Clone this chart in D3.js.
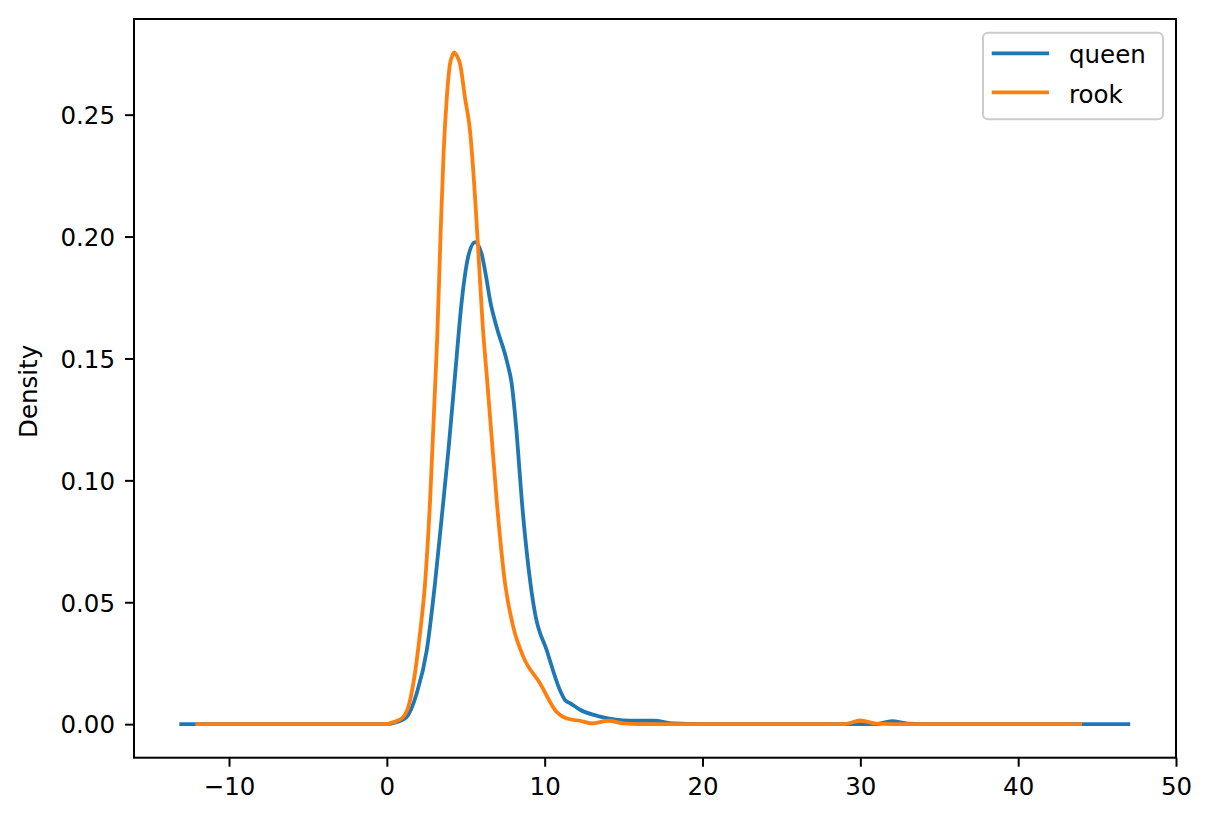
<!DOCTYPE html>
<html>
<head>
<meta charset="utf-8">
<script src="https://cdn.jsdelivr.net/npm/d3@7"></script>
<style>
  html, body { margin: 0; padding: 0; background: #fff; }
  svg { display: block; }
  text { font-family: "DejaVu Sans", sans-serif; }
</style>
</head>
<body>
<svg id="chart" width="1211" height="822"></svg>
<script>
// ---- data ----
const seriesNames = ["queen", "rook"];

const queenX = [-13.15, -5, 0, 0.6, 1.26, 1.89, 2.53, 3.05, 3.48, 3.90, 4.32, 4.75, 5.2, 5.59, 6.0, 6.33, 6.54, 6.96, 7.60, 7.91, 8.23, 8.55, 8.97, 9.39, 10.13, 10.97, 11.3, 11.61, 12.24, 13.51, 15.41, 16.89, 18.15, 20, 31, 32.0, 33, 34, 47.1];
const queenY = [0, 0, 0, 0.0008, 0.003, 0.0126, 0.0303, 0.0577, 0.085, 0.1123, 0.143, 0.1738, 0.193, 0.1977, 0.193, 0.182, 0.1738, 0.1628, 0.149, 0.1396, 0.119, 0.0918, 0.0645, 0.0454, 0.0303, 0.0139, 0.0098, 0.0086, 0.0059, 0.0031, 0.0014, 0.0014, 0.0003, 0, 0, 0.0012, 0.0002, 0, 0];

const rookX = [-12.13, -5, 0, 0.2, 0.6, 1.05, 1.4, 1.68, 2.10, 2.42, 2.74, 3.0, 3.2, 3.4, 3.6, 3.8, 4.0, 4.11, 4.26, 4.45, 4.64, 4.95, 5.27, 5.59, 5.84, 6.08, 6.33, 6.65, 6.96, 7.49, 8.01, 8.65, 9.71, 10.76, 11.40, 12.24, 12.98, 14.03, 14.98, 16, 29, 30.0, 31, 32, 44.05];
const rookY = [0, 0, 0, 0.0004, 0.0012, 0.003, 0.008, 0.0167, 0.0372, 0.0577, 0.0918, 0.13, 0.16, 0.20, 0.235, 0.257, 0.2708, 0.2735, 0.2755, 0.2740, 0.2708, 0.257, 0.2434, 0.216, 0.189, 0.163, 0.143, 0.117, 0.0918, 0.0577, 0.0399, 0.0276, 0.0167, 0.005, 0.0023, 0.0014, 0.0003, 0.0014, 0.0003, 0, 0, 0.0015, 0.0002, 0, 0];

const xTicks = [-10, 0, 10, 20, 30, 40, 50];
const yTicks = [0.00, 0.05, 0.10, 0.15, 0.20, 0.25];
const yLabel = "Density";
const colors = ["#1f77b4", "#ff7f0e"];

// ---- layout ----
const mLeft = 134, mRight = 1176, mTop = 19, mBottom = 757.7;
const svg = d3.select("#chart");

const x = d3.scaleLinear().domain([-16.02, 50]).range([mLeft, mRight]);
const y = d3.scaleLinear().domain([-0.01376, 0.28924]).range([mBottom, mTop]);

const fontSize = 24.5;

// x axis
const xAxis = svg.append("g")
  .attr("transform", `translate(0,${mBottom})`)
  .call(d3.axisBottom(x).tickValues(xTicks)
    .tickFormat(d => d < 0 ? "\u2212" + Math.abs(d) : String(d))
    .tickSize(9).tickSizeOuter(0).tickPadding(11));
xAxis.select(".domain").remove();
xAxis.selectAll(".tick line").attr("stroke", "#000").attr("stroke-width", 2);
xAxis.selectAll(".tick text").attr("font-size", fontSize).attr("fill", "#000")
  .attr("font-family", "DejaVu Sans");

// y axis
const yAxis = svg.append("g")
  .attr("transform", `translate(${mLeft},0)`)
  .call(d3.axisLeft(y).tickValues(yTicks)
    .tickFormat(d3.format(".2f"))
    .tickSize(9).tickSizeOuter(0).tickPadding(10));
yAxis.select(".domain").remove();
yAxis.selectAll(".tick line").attr("stroke", "#000").attr("stroke-width", 2);
yAxis.selectAll(".tick text").attr("font-size", fontSize).attr("fill", "#000")
  .attr("dy", "0.36em").attr("font-family", "DejaVu Sans");

// y label
svg.append("text")
  .attr("transform", `translate(37,${(mTop + mBottom) / 2 + 3}) rotate(-90)`)
  .attr("text-anchor", "middle")
  .attr("font-size", fontSize)
  .text(yLabel);

// lines
const line = d3.line()
  .x(d => x(d[0]))
  .y(d => y(d[1]))
  .curve(d3.curveMonotoneX);

const series = [
  d3.zip(queenX, queenY),
  d3.zip(rookX, rookY)
];

series.forEach((pts, i) => {
  svg.append("path")
    .datum(pts)
    .attr("d", line)
    .attr("fill", "none")
    .attr("stroke", colors[i])
    .attr("stroke-width", 3.8)
    .attr("stroke-linejoin", "round")
    .attr("stroke-linecap", "butt");
});

// frame (spines)
svg.append("rect")
  .attr("x", mLeft).attr("y", mTop)
  .attr("width", mRight - mLeft).attr("height", mBottom - mTop)
  .attr("fill", "none").attr("stroke", "#000").attr("stroke-width", 2);

// legend
const lg = svg.append("g");
lg.append("rect")
  .attr("x", 983).attr("y", 32.7).attr("width", 180).attr("height", 86.6)
  .attr("rx", 5).attr("ry", 5)
  .attr("fill", "#fff").attr("fill-opacity", 0.8)
  .attr("stroke", "#cccccc").attr("stroke-width", 2);
const handleY = [53.3, 92.3];
const textY = [63.3, 102.7];
seriesNames.forEach((name, i) => {
  lg.append("line")
    .attr("x1", 991.7).attr("x2", 1049)
    .attr("y1", handleY[i]).attr("y2", handleY[i])
    .attr("stroke", colors[i]).attr("stroke-width", 3.8);
  lg.append("text")
    .attr("x", 1069).attr("y", textY[i])
    .attr("font-size", fontSize)
    .attr("fill", "#000")
    .text(name);
});
</script>
</body>
</html>
